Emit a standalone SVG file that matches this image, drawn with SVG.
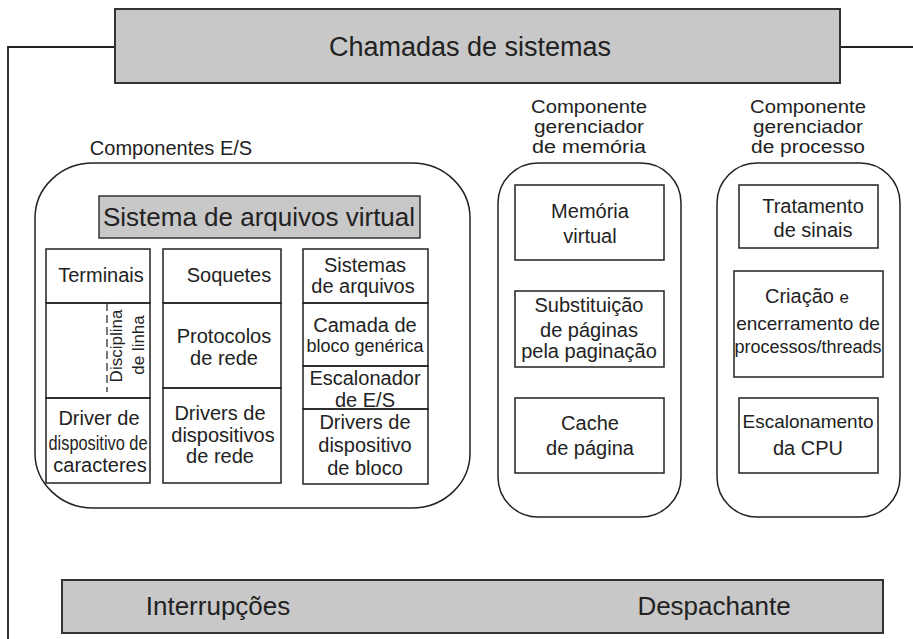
<svg xmlns="http://www.w3.org/2000/svg" width="913" height="639" viewBox="0 0 913 639">
<style>
text{font-family:"Liberation Sans",Arial,Helvetica,sans-serif;fill:#222;text-anchor:middle}
.bar{fill:#c8c8c8;stroke:#333;stroke-width:2}
.box{fill:none;stroke:#222;stroke-width:1.5}
.grp{fill:none;stroke:#222;stroke-width:1.5}
.line{fill:none;stroke:#222;stroke-width:1.8}
.dash{fill:none;stroke:#222;stroke-width:1.2;stroke-dasharray:8 4}
.lbl{font-size:18px}
</style>
<rect width="913" height="639" fill="#fff"/>
<g id="connectors">
<path class="line" d="M115 47 H8 V639"/>
<path class="line" d="M840 47 H913"/>
</g>
<g id="chamadas">
<rect class="bar" x="115" y="9" width="725" height="74"/>
<text x="470" y="56" font-size="27">Chamadas de sistemas</text>
</g>
<g id="componentes-es">
<text x="171" y="155" font-size="20">Componentes E/S</text>
<rect class="grp" x="35" y="163" width="435" height="345" rx="58" ry="55"/>
</g>
<g id="vfs">
<rect class="bar" x="99" y="196" width="321" height="42" style="stroke-width:1.5"/>
<text x="259" y="226" font-size="26">Sistema de arquivos virtual</text>
</g>
<g id="terminais">
<rect class="box" x="46" y="249" width="104" height="54"/>
<text x="101" y="282" font-size="20">Terminais</text>
</g>
<g id="disciplina">
<rect class="box" x="46" y="303" width="104" height="95"/>
<path class="dash" d="M107 303 V392"/>
<text transform="translate(122 346) rotate(-90)" font-size="17">Disciplina</text>
<text transform="translate(144 345) rotate(-90)" font-size="17">de linha</text>
</g>
<g id="driver-caracteres">
<rect class="box" x="46" y="398" width="104" height="85"/>
<text x="99" y="425" font-size="20">Driver de</text>
<text x="98" y="450" font-size="20" textLength="99" lengthAdjust="spacingAndGlyphs">dispositivo de</text>
<text x="100" y="472" font-size="20">caracteres</text>
</g>
<g id="soquetes">
<rect class="box" x="163" y="249" width="118" height="54"/>
<text x="229" y="282" font-size="20">Soquetes</text>
</g>
<g id="protocolos">
<rect class="box" x="163" y="303" width="118" height="85"/>
<text x="224" y="343" font-size="20">Protocolos</text>
<text x="224" y="365" font-size="20">de rede</text>
</g>
<g id="drivers-rede">
<rect class="box" x="163" y="388" width="118" height="95"/>
<text x="220" y="420" font-size="20">Drivers de</text>
<text x="223" y="442" font-size="20">dispositivos</text>
<text x="220" y="463" font-size="20">de rede</text>
</g>
<g id="sistemas-arquivos">
<rect class="box" x="303" y="249" width="125" height="54"/>
<text x="365" y="272" font-size="20">Sistemas</text>
<text x="363" y="293" font-size="20">de arquivos</text>
</g>
<g id="camada-bloco">
<rect class="box" x="303" y="303" width="125" height="63"/>
<text x="365" y="332" font-size="20">Camada de</text>
<text x="365" y="352" font-size="18">bloco genérica</text>
</g>
<g id="escalonador-es">
<rect class="box" x="303" y="366" width="125" height="43"/>
<text x="365" y="385" font-size="20">Escalonador</text>
<text x="365" y="407" font-size="20">de E/S</text>
</g>
<g id="drivers-bloco">
<rect class="box" x="303" y="409" width="125" height="75"/>
<text x="365" y="429" font-size="20">Drivers de</text>
<text x="365" y="452" font-size="20">dispositivo</text>
<text x="365" y="475" font-size="20">de bloco</text>
</g>
<g id="componente-memoria">
<text class="lbl" x="589" y="113" textLength="116" lengthAdjust="spacingAndGlyphs">Componente</text>
<text class="lbl" x="589" y="133" textLength="110" lengthAdjust="spacingAndGlyphs">gerenciador</text>
<text class="lbl" x="589" y="153" textLength="114" lengthAdjust="spacingAndGlyphs">de memória</text>
<rect class="grp" x="498" y="163" width="183" height="354" rx="40" ry="40"/>
</g>
<g id="memoria-virtual">
<rect class="box" x="515" y="185" width="149" height="75"/>
<text x="590" y="218" font-size="20">Memória</text>
<text x="590" y="243" font-size="20">virtual</text>
</g>
<g id="substituicao">
<rect class="box" x="515" y="291" width="149" height="76"/>
<text x="589" y="312" font-size="20">Substituição</text>
<text x="589" y="337" font-size="20">de páginas</text>
<text x="589" y="358" font-size="20">pela paginação</text>
</g>
<g id="cache">
<rect class="box" x="515" y="398" width="149" height="75"/>
<text x="590" y="430" font-size="20">Cache</text>
<text x="590" y="455" font-size="20">de página</text>
</g>
<g id="componente-processo">
<text class="lbl" x="808" y="113" textLength="116" lengthAdjust="spacingAndGlyphs">Componente</text>
<text class="lbl" x="808" y="133" textLength="110" lengthAdjust="spacingAndGlyphs">gerenciador</text>
<text class="lbl" x="808" y="153" textLength="114" lengthAdjust="spacingAndGlyphs">de processo</text>
<rect class="grp" x="717" y="163" width="183" height="354" rx="40" ry="40"/>
</g>
<g id="tratamento-sinais">
<rect class="box" x="739" y="185" width="139" height="63"/>
<text x="813" y="213" font-size="20">Tratamento</text>
<text x="813" y="237" font-size="20">de sinais</text>
</g>
<g id="criacao">
<rect class="box" x="734" y="271" width="149" height="106"/>
<text x="807" y="303" font-size="20">Criação <tspan font-size="17">e</tspan></text>
<text x="808" y="330" font-size="19">encerramento de</text>
<text x="808" y="353" font-size="18">processos/threads</text>
</g>
<g id="escalonamento-cpu">
<rect class="box" x="739" y="398" width="139" height="75"/>
<text x="808" y="428" font-size="19">Escalonamento</text>
<text x="808" y="455" font-size="20">da CPU</text>
</g>
<g id="interrupcoes-despachante">
<rect class="bar" x="62" y="580" width="821" height="53"/>
<text x="218" y="615" font-size="26">Interrupções</text>
<text x="714" y="615" font-size="26">Despachante</text>
</g>
</svg>
